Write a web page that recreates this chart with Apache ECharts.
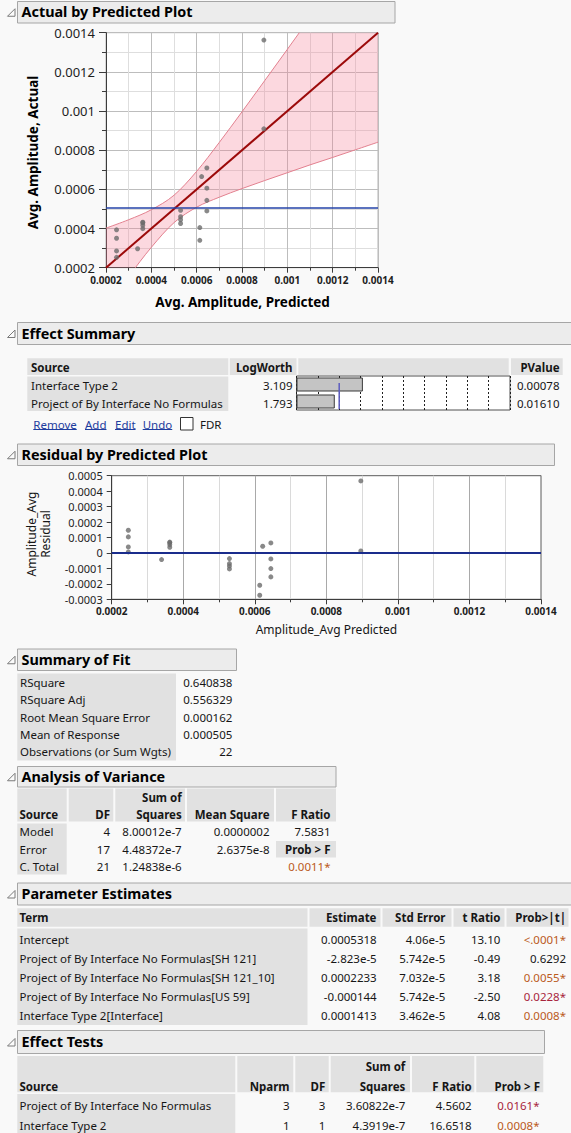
<!DOCTYPE html>
<html>
<head>
<meta charset="utf-8">
<script src="https://cdn.jsdelivr.net/npm/echarts@6.0.0/dist/echarts.min.js"></script>
<style>
  html, body { margin: 0; padding: 0; background: #f9f9f9; }
  #chart { width: 571px; height: 1133px; }
</style>
</head>
<body>
<div id="chart"></div>
<script>
// ---------- model fit data (22 observations) ----------
const predicted = [
  0.0002465, 0.0002465, 0.0002465, 0.0002465,
  0.0003394,
  0.0003623, 0.0003623, 0.0003623, 0.0003623,
  0.0005291, 0.0005291, 0.0005291, 0.0005291,
  0.0006138, 0.0006138,
  0.000622,
  0.0006449, 0.0006449, 0.0006449, 0.0006449,
  0.0008964, 0.0008964
];
const actual = [
  0.0003935, 0.0003505, 0.0002855, 0.000253,
  0.0002967,
  0.0004323, 0.0004296, 0.0004167, 0.0003992,
  0.0004929, 0.0004605, 0.000445, 0.0004256,
  0.0004048, 0.0003398,
  0.0006654,
  0.0007096, 0.0006061, 0.0005439, 0.0004899,
  0.0013624, 0.0009093
];
const residual = [
  0.000147, 0.000104, 0.000039, 0.0000065,
  -0.0000427,
  0.00007, 0.0000673, 0.0000544, 0.0000369,
  -0.0000362, -0.0000686, -0.0000841, -0.0001035,
  -0.000209, -0.000274,
  0.0000434,
  0.0000647, -0.0000388, -0.000101, -0.000155,
  0.000466, 0.0000129
];
const meanResponse = 0.000505;

// confidence curves around the fit line
const bandX     = [0.0002, 0.0003, 0.0004, 0.0005, 0.0006, 0.0007, 0.0008, 0.0009, 0.001, 0.0011, 0.0012, 0.0013, 0.0014];
const bandUpper = [0.000402, 0.000445, 0.000496, 0.00057, 0.000692, 0.00084, 0.000996, 0.001155, 0.001315, 0.001476, 0.001637, 0.001798, 0.001959];
const bandLower = [-0.000002, 0.000155, 0.000304, 0.00043, 0.000509, 0.00056, 0.000604, 0.000645, 0.000685, 0.000725, 0.000763, 0.000802, 0.000841];
const fitLineX = [0.0002, 0.0014];

// ---------- effect summary ----------
const effectSources = ['Interface Type 2', 'Project of By Interface No Formulas'];
const logWorth = [3.109, 1.793];
const effectPValue = ['0.00078', '0.01610'];
const logWorthRef = 2;
const effectLinks = ['Remove', 'Add', 'Edit', 'Undo'];

// ---------- summary of fit ----------
const fitLabels = ['RSquare', 'RSquare Adj', 'Root Mean Square Error', 'Mean of Response', 'Observations (or Sum Wgts)'];
const fitValues = ['0.640838', '0.556329', '0.000162', '0.000505', '22'];

// ---------- analysis of variance ----------
const anovaSource = ['Model', 'Error', 'C. Total'];
const anovaDF = ['4', '17', '21'];
const anovaSS = ['8.00012e-7', '4.48372e-7', '1.24838e-6'];
const anovaMS = ['0.0000002', '2.6375e-8', ''];
const anovaF = '7.5831';
const anovaProb = '0.0011*';

// ---------- parameter estimates ----------
const paramTerms = [
  'Intercept',
  'Project of By Interface No Formulas[SH 121]',
  'Project of By Interface No Formulas[SH 121_10]',
  'Project of By Interface No Formulas[US 59]',
  'Interface Type 2[Interface]'
];
const paramEst = ['0.0005318', '-2.823e-5', '0.0002233', '-0.000144', '0.0001413'];
const paramSE = ['4.06e-5', '5.742e-5', '7.032e-5', '5.742e-5', '3.462e-5'];
const paramT = ['13.10', '-0.49', '3.18', '-2.50', '4.08'];
const paramProb = ['<.0001*', '0.6292', '0.0055*', '0.0228*', '0.0008*'];

// ---------- effect tests ----------
const testSources = ['Project of By Interface No Formulas', 'Interface Type 2'];
const testNparm = ['3', '1'];
const testDF = ['3', '1'];
const testSS = ['3.60822e-7', '4.3919e-7'];
const testF = ['4.5602', '16.6518'];
const testProb = ['0.0161*', '0.0008*'];

// ---------- drawing helpers ----------
const FAMILY = '"Noto Sans", "Liberation Sans", sans-serif';
const CELL = '#e1e1e1';
const INK = '#161616';
const fmt = v => String(parseFloat(v.toFixed(6)));
const G = [];
const measure = (() => {
  const ctx = document.createElement('canvas').getContext('2d');
  return (s, font) => { ctx.font = font; return ctx.measureText(s).width; };
})();
function fontOf(o) { return (o.bold ? 'bold ' : '') + (o.size || 11.5) + 'px ' + FAMILY; }
function rect(x, y, w, h, fill, stroke) {
  G.push({ type: 'rect', silent: true, z: 1, shape: { x, y, width: w, height: h },
    style: { fill, stroke: stroke || null, lineWidth: stroke ? 1 : 0 } });
}
function line(x1, y1, x2, y2, stroke, w) {
  G.push({ type: 'line', silent: true, z: 2, shape: { x1, y1, x2, y2 }, style: { stroke, lineWidth: w || 1 } });
}
function text(x, y, s, o = {}) {
  const al = o.align || 'left';
  G.push({ type: 'text', silent: true, z: 3, x, y, rotation: o.rotation || 0,
    style: { text: s, font: fontOf(o), fill: o.color || INK,
      textAlign: al, textVerticalAlign: 'middle', align: al, verticalAlign: 'middle' } });
}
function pColor(s) {
  const p = parseFloat(s.replace('<', '').replace('*', ''));
  return p < 0.01 ? '#bb5a1c' : '#a8243c';
}
function header(title, top, bottom, right) {
  rect(17.5, top + 0.5, right - 17.5, bottom - top, '#ececec', '#a6a6a6');
  const mid = (top + bottom) / 2;
  G.push({ type: 'polygon', silent: true, z: 2,
    shape: { points: [[7.5, mid + 4.5], [15, mid - 3], [15, mid + 4.5]] },
    style: { fill: '#fbfbfb', stroke: '#7a7a7a', lineWidth: 1 } });
  text(21.5, mid, title, { bold: true, size: 14.4, color: '#000' });
}
// smooth curve through pixel points (Catmull-Rom converted to cubic Bezier)
function splinePath(pts) {
  let d = '';
  for (let i = 0; i < pts.length - 1; i++) {
    const p0 = pts[i - 1] || pts[i], p1 = pts[i], p2 = pts[i + 1], p3 = pts[i + 2] || pts[i + 1];
    const c1 = [p1[0] + (p2[0] - p0[0]) / 6, p1[1] + (p2[1] - p0[1]) / 6];
    const c2 = [p2[0] - (p3[0] - p1[0]) / 6, p2[1] - (p3[1] - p1[1]) / 6];
    d += ' C' + c1[0] + ' ' + c1[1] + ' ' + c2[0] + ' ' + c2[1] + ' ' + p2[0] + ' ' + p2[1];
  }
  return d;
}

// ---------- report headers ----------
header('Actual by Predicted Plot', 1, 22.5, 395);
header('Effect Summary', 322, 344, 575);
header('Residual by Predicted Plot', 443.5, 465, 554.5);
header('Summary of Fit', 648.5, 670, 236.5);
header('Analysis of Variance', 766, 786.5, 336);
header('Parameter Estimates', 882.5, 904.5, 575);
header('Effect Tests', 1030, 1053, 544.5);

// axis titles of the two plots
text(242.5, 301.5, 'Avg. Amplitude, Predicted', { bold: true, size: 13.5, align: 'center', color: '#000' });
text(33.3, 152.5, 'Avg. Amplitude, Actual', { bold: true, size: 13.5, align: 'center', color: '#000', rotation: Math.PI / 2 });
text(326.4, 629, 'Amplitude_Avg Predicted', { size: 12, align: 'center' });
text(31, 534, 'Amplitude_Avg', { size: 12, align: 'center', rotation: Math.PI / 2 });
text(45, 534, 'Residual', { size: 12, align: 'center', rotation: Math.PI / 2 });

// ---------- effect summary table ----------
rect(27.3, 358.3, 201, 16.7, CELL);
rect(229.8, 358.3, 66.7, 16.7, CELL);
rect(298.3, 358.3, 210.4, 16.7, CELL);
rect(511, 358.3, 51.7, 16.7, CELL);
text(31, 367, 'Source', { bold: true });
text(292.5, 367, 'LogWorth', { bold: true, align: 'right' });
text(559.5, 367, 'PValue', { bold: true, align: 'right' });
rect(27.3, 376.5, 201, 34.5, CELL);
effectSources.forEach((s, i) => {
  const y = 385.7 + i * 17.6;
  text(31, y, s);
  text(292.5, y, logWorth[i].toFixed(3), { align: 'right' });
  text(559.5, y, effectPValue[i], { align: 'right' });
});
const linkX = [33.3, 85, 115, 142.7];
effectLinks.forEach((s, i) => {
  text(linkX[i], 424.3, s, { color: '#1f3d9e' });
  line(linkX[i], 429.5, linkX[i] + measure(s, fontOf({})), 429.5, '#1f3d9e', 1);
});
rect(180.5, 417.5, 12.5, 12.5, '#ffffff', '#333333');
text(200, 424.3, 'FDR');

// ---------- summary of fit ----------
rect(17.3, 673.5, 158.7, 87, CELL);
fitLabels.forEach((s, i) => {
  const y = 682.3 + i * 17.4;
  text(20, y, s);
  text(232.3, y, fitValues[i], { align: 'right' });
});

// ---------- analysis of variance ----------
[[17.3, 66.7], [68.7, 113.3], [115.3, 185], [187, 274], [276, 336]].forEach(c => rect(c[0], 788.5, c[1] - c[0], 33, CELL));
text(19.5, 814.3, 'Source', { bold: true });
text(110, 814.3, 'DF', { bold: true, align: 'right' });
text(181.7, 797.3, 'Sum of', { bold: true, align: 'right' });
text(181.7, 814.3, 'Squares', { bold: true, align: 'right' });
text(269.5, 814.3, 'Mean Square', { bold: true, align: 'right' });
text(330.5, 814.3, 'F Ratio', { bold: true, align: 'right' });
rect(17.3, 823.5, 49.4, 51, CELL);
anovaSource.forEach((s, i) => {
  const y = 831.7 + i * 17.4;
  text(19.5, y, s);
  text(110, y, anovaDF[i], { align: 'right' });
  text(181.7, y, anovaSS[i], { align: 'right' });
  if (anovaMS[i]) text(269.5, y, anovaMS[i], { align: 'right' });
});
text(330.5, 831.7, anovaF, { align: 'right' });
rect(276, 841, 60, 16.5, CELL);
text(330.5, 849.1, 'Prob > F', { bold: true, align: 'right' });
text(330.5, 866.5, anovaProb, { align: 'right', color: pColor(anovaProb) });

// ---------- parameter estimates ----------
[[17.3, 307.5], [309.5, 380.5], [382.5, 451.5], [453.5, 504.5], [506.5, 568.5]].forEach(c => rect(c[0], 908.3, c[1] - c[0], 18.4, CELL));
text(19.5, 917.5, 'Term', { bold: true });
text(376.5, 917.5, 'Estimate', { bold: true, align: 'right' });
text(445.5, 917.5, 'Std Error', { bold: true, align: 'right' });
text(500.5, 917.5, 't Ratio', { bold: true, align: 'right' });
text(566, 917.5, 'Prob>|t|', { bold: true, align: 'right' });
rect(17.3, 928.5, 290.2, 96.5, CELL);
paramTerms.forEach((s, i) => {
  const y = 939 + i * 19.2;
  text(19.5, y, s);
  text(376.7, y, paramEst[i], { align: 'right' });
  text(445.3, y, paramSE[i], { align: 'right' });
  text(500.3, y, paramT[i], { align: 'right' });
  const star = paramProb[i].endsWith('*');
  text(566, y, paramProb[i], { align: 'right', color: star ? pColor(paramProb[i]) : INK });
});

// ---------- effect tests ----------
[[17.3, 235.3], [237.3, 293.3], [295.3, 328.7], [330.7, 410], [412, 474.3], [476.3, 543.3]].forEach(c => rect(c[0], 1056, c[1] - c[0], 36.3, CELL));
text(405.3, 1066.7, 'Sum of', { bold: true, align: 'right' });
text(19.5, 1086, 'Source', { bold: true });
text(289.5, 1086, 'Nparm', { bold: true, align: 'right' });
text(325.3, 1086, 'DF', { bold: true, align: 'right' });
text(405.3, 1086, 'Squares', { bold: true, align: 'right' });
text(471.7, 1086, 'F Ratio', { bold: true, align: 'right' });
text(540, 1086, 'Prob > F', { bold: true, align: 'right' });
rect(17.3, 1094, 218, 45, CELL);
testSources.forEach((s, i) => {
  const y = 1105.7 + i * 19.3;
  text(19.5, y, s);
  text(289.5, y, testNparm[i], { align: 'right' });
  text(325.3, y, testDF[i], { align: 'right' });
  text(405.3, y, testSS[i], { align: 'right' });
  text(471.7, y, testF[i], { align: 'right' });
  text(539.5, y, testProb[i], { align: 'right', color: pColor(testProb[i]) });
});

// ---------- axes ----------
function valueAxis(gi, min, max, interval, o) {
  return {
    gridIndex: gi, type: 'value', min, max, interval,
    axisLine: { show: true, onZero: false, lineStyle: { color: '#3c3c3c', width: 1 } },
    axisTick: { show: true, length: o.tick, lineStyle: { color: '#3c3c3c' } },
    minorTick: { show: o.minor, splitNumber: 2, length: o.minorTick || 3, lineStyle: { color: '#3c3c3c' } },
    splitLine: { show: o.split, lineStyle: { color: o.splitColor || '#bdbdbd' } },
    minorSplitLine: { show: o.split && o.minor, lineStyle: { color: o.minorColor || '#dedede' } },
    axisLabel: { fontFamily: FAMILY, fontSize: o.font, fontWeight: o.bold ? 'bold' : 'normal', color: '#1e1e1e', margin: o.margin, formatter: fmt }
  };
}

const option = {
  animation: false,
  backgroundColor: '#f9f9f9',
  textStyle: { fontFamily: FAMILY },
  graphic: { elements: G },
  grid: [
    { left: 106, top: 32.7, width: 272, height: 235, show: true, backgroundColor: '#ffffff', borderColor: '#b4b4b4', borderWidth: 1 },
    { left: 111.7, top: 475.7, width: 429.3, height: 123.6, show: true, backgroundColor: '#ffffff', borderColor: '#5c5c5c', borderWidth: 1 },
    { left: 296.5, top: 376, width: 213.5, height: 34, show: true, backgroundColor: '#ffffff', borderColor: '#505050', borderWidth: 1 }
  ],
  xAxis: [
    valueAxis(0, 0.0002, 0.0014, 0.0002, { tick: 5, minor: true, split: true, font: 10, bold: true, margin: 7 }),
    valueAxis(1, 0.0002, 0.0014, 0.0002, { tick: 5, minor: true, split: true, font: 10, bold: true, margin: 7, splitColor: '#a9a9a9', minorColor: '#dadada' }),
    { gridIndex: 2, type: 'value', min: 0, max: 10, interval: 1,
      axisLine: { show: false }, axisTick: { show: false }, axisLabel: { show: false },
      splitLine: { show: true, lineStyle: { color: '#202020', type: [2, 2] } } }
  ],
  yAxis: [
    valueAxis(0, 0.0002, 0.0014, 0.0002, { tick: 7, minorTick: 4, minor: true, split: true, font: 13, margin: 11 }),
    valueAxis(1, -0.0003, 0.0005, 0.0001, { tick: 5, minor: false, split: false, font: 11, margin: 9 }),
    { gridIndex: 2, type: 'category', data: effectSources, inverse: true, show: false }
  ],
  series: [
    // shaded confidence region with its two edge curves
    { type: 'custom', xAxisIndex: 0, yAxisIndex: 0, silent: true, clip: true, z: 1, data: [[bandX[0], bandLower[0]]],
      renderItem: (params, api) => {
        const cs = params.coordSys;
        const up = bandX.map((x, i) => api.coord([x, bandUpper[i]]));
        const lo = bandX.map((x, i) => api.coord([x, bandLower[i]]));
        const loRev = lo.slice().reverse();
        const upD = 'M' + up[0][0] + ' ' + up[0][1] + splinePath(up);
        const loD = 'M' + lo[0][0] + ' ' + lo[0][1] + splinePath(lo);
        const fillD = upD + ' L' + loRev[0][0] + ' ' + loRev[0][1] + splinePath(loRev) + ' Z';
        return {
          type: 'group',
          clipPath: { type: 'rect', shape: { x: cs.x, y: cs.y, width: cs.width, height: cs.height } },
          children: [
            { type: 'path', shape: { pathData: fillD }, style: { fill: 'rgba(245,125,148,0.3)', stroke: 'none' } },
            { type: 'path', shape: { pathData: upD }, style: { fill: 'none', stroke: '#e2808f', lineWidth: 1 } },
            { type: 'path', shape: { pathData: loD }, style: { fill: 'none', stroke: '#e2808f', lineWidth: 1 } }
          ]
        };
      } },
    // fit line (actual = predicted)
    { type: 'line', xAxisIndex: 0, yAxisIndex: 0, symbol: 'none', silent: true, z: 3,
      lineStyle: { color: '#9c0a0a', width: 2 }, data: fitLineX.map(x => [x, x]) },
    // mean of response
    { type: 'line', xAxisIndex: 0, yAxisIndex: 0, symbol: 'none', silent: true, z: 3,
      lineStyle: { color: '#2443a8', width: 1.6 }, data: fitLineX.map(x => [x, meanResponse]) },
    { type: 'scatter', xAxisIndex: 0, yAxisIndex: 0, symbolSize: 5, silent: true, z: 4,
      itemStyle: { color: '#6c6c6c' }, data: predicted.map((p, i) => [p, actual[i]]) },

    // residual plot
    { type: 'line', xAxisIndex: 1, yAxisIndex: 1, symbol: 'none', silent: true,
      lineStyle: { color: '#1a2c8c', width: 2 }, data: fitLineX.map(x => [x, 0]) },
    { type: 'scatter', xAxisIndex: 1, yAxisIndex: 1, symbolSize: 5, silent: true,
      itemStyle: { color: '#6c6c6c' }, data: predicted.map((p, i) => [p, residual[i]]) },

    // effect summary LogWorth bars
    { type: 'bar', xAxisIndex: 2, yAxisIndex: 2, barWidth: 14, silent: true,
      itemStyle: { color: '#c4c4c4', borderColor: '#3a3a3a', borderWidth: 1 }, data: logWorth },
    { type: 'custom', xAxisIndex: 2, yAxisIndex: 2, silent: true, z: 5, data: [[logWorthRef, 0]],
      renderItem: (params, api) => {
        const x = api.coord([api.value(0), 0])[0];
        const cs = params.coordSys;
        return { type: 'line', shape: { x1: x, y1: cs.y + 7, x2: x, y2: cs.y + cs.height - 1 },
          style: { stroke: '#5c5cc0', lineWidth: 1.5 } };
      } }
  ]
};

const chart = echarts.init(document.getElementById('chart'), null, { renderer: 'svg', width: 571, height: 1133 });
chart.setOption(option);
</script>
</body>
</html>
